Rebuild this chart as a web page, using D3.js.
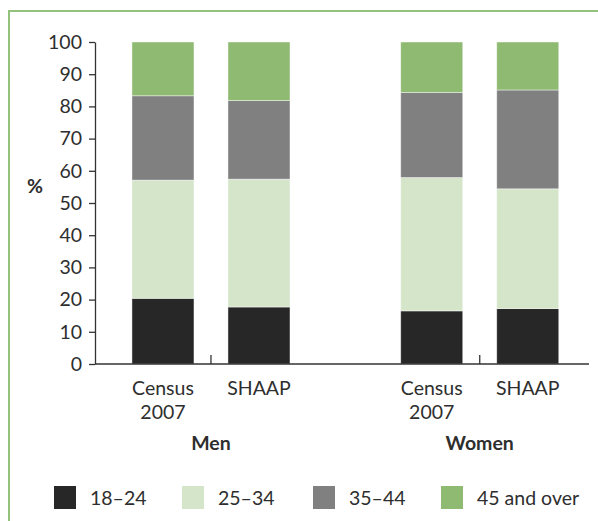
<!DOCTYPE html>
<html>
<head>
<meta charset="utf-8">
<script src="https://cdn.jsdelivr.net/npm/d3@7"></script>
<style>
  html, body { margin: 0; padding: 0; background: #fff; }
  svg { display: block; }
  text { font-family: Lato, "Open Sans", sans-serif; fill: #2e2e2e; }
</style>
</head>
<body>
<script>
// Age distribution (%) of respondents by survey source and sex
const groups = ["Men", "Women"];
const sources = ["Census 2007", "SHAAP"];
const sourceLines = [["Census", "2007"], ["SHAAP"]];
const ageBands = ["18–24", "25–34", "35–44", "45 and over"];

const age18to24 = [20.4, 17.7, 16.5, 17.2];
const age25to34 = [36.7, 39.7, 41.4, 37.2];
const age35to44 = [26.2, 24.4, 26.4, 30.7];
const age45plus = [16.7, 18.2, 15.7, 14.9];

const yTicks = [0, 10, 20, 30, 40, 50, 60, 70, 80, 90, 100];
const bandColors = ["#272727", "#d4e5c9", "#808080", "#8fba72"];

const W = 598, H = 521;
const FONT = 19.5;
const svg = d3.select("body").append("svg").attr("width", W).attr("height", H);

// Frame: green rule along the top and left edges
svg.append("path")
  .attr("d", `M9,${H} V11 H${W}`)
  .attr("fill", "none").attr("stroke", "#93c27c").attr("stroke-width", 2);

// Build rows: one per group × source
const rows = [];
groups.forEach((g, gi) => sources.forEach((s, si) => {
  const i = gi * sources.length + si;
  rows.push({ group: g, source: s, "18–24": age18to24[i], "25–34": age25to34[i],
              "35–44": age35to44[i], "45 and over": age45plus[i] });
}));

const x0 = 95, x1 = 589, yBase = 364, yTop = 42;

const xGroup = d3.scaleBand().domain(groups).range([x0, x1])
  .paddingInner(0.412).paddingOuter(0.125).align(0.55);
const xSource = d3.scaleBand().domain(sources).range([0, xGroup.bandwidth()])
  .paddingInner(0.354).paddingOuter(0);
const y = d3.scaleLinear().domain([0, 100]).range([yBase, yTop]);
const color = d3.scaleOrdinal().domain(ageBands).range(bandColors);

const stacked = d3.stack().keys(ageBands)(rows);

// Bars
const layer = svg.append("g").selectAll("g").data(stacked).join("g")
  .attr("fill", d => color(d.key));
layer.selectAll("rect").data(d => d).join("rect")
  .attr("x", d => xGroup(d.data.group) + xSource(d.data.source))
  .attr("width", xSource.bandwidth())
  .attr("y", d => y(d[1]))
  .attr("height", d => y(d[0]) - y(d[1]))
  .attr("stroke", "#fff").attr("stroke-opacity", 0.55).attr("stroke-width", 0.8);

// Y axis
const yAxis = svg.append("g").attr("transform", `translate(${x0},0)`)
  .call(d3.axisLeft(y).tickValues(yTicks).tickSize(6).tickSizeOuter(0).tickPadding(7));
yAxis.select(".domain").attr("stroke", "#333").attr("stroke-width", 1.3);
yAxis.selectAll(".tick line").attr("stroke", "#333").attr("stroke-width", 1.3);
yAxis.selectAll(".tick text").attr("font-size", FONT).attr("fill", "#2e2e2e")
  .attr("font-family", "Lato, sans-serif");

svg.append("text").attr("x", 35).attr("y", 193).attr("text-anchor", "middle")
  .attr("font-size", FONT).attr("font-weight", 700).text("%");

// X axis: baseline with short upward ticks at each group centre
const xAxisScale = d3.scalePoint().domain(groups)
  .range([xGroup("Men") + xGroup.bandwidth() / 2, xGroup("Women") + xGroup.bandwidth() / 2]);
svg.append("line").attr("x1", x0).attr("x2", x1).attr("y1", yBase).attr("y2", yBase)
  .attr("stroke", "#333").attr("stroke-width", 1.3);
svg.append("g").selectAll("line").data(groups).join("line")
  .attr("x1", d => xAxisScale(d)).attr("x2", d => xAxisScale(d))
  .attr("y1", yBase).attr("y2", yBase - 9)
  .attr("stroke", "#333").attr("stroke-width", 1.3);

// Source labels under each bar, one text element per line
groups.forEach(g => {
  sources.forEach((s, si) => {
    const cx = xGroup(g) + xSource(s) + xSource.bandwidth() / 2;
    sourceLines[si].forEach((line, li) => {
      svg.append("text").attr("x", cx).attr("y", 395 + li * 23.5)
        .attr("text-anchor", "middle").attr("font-size", FONT).text(line);
    });
  });
  svg.append("text").attr("x", xAxisScale(g)).attr("y", 450)
    .attr("text-anchor", "middle").attr("font-size", FONT).attr("font-weight", 700)
    .text(g);
});

// Legend
const legendX = [54, 182, 313, 441];
const legend = svg.append("g").selectAll("g").data(ageBands).join("g")
  .attr("transform", (d, i) => `translate(${legendX[i]},486)`);
legend.append("rect").attr("width", 22).attr("height", 23).attr("fill", d => color(d));
legend.append("text").attr("x", 36).attr("y", 19).attr("font-size", FONT).text(d => d);
</script>
</body>
</html>
